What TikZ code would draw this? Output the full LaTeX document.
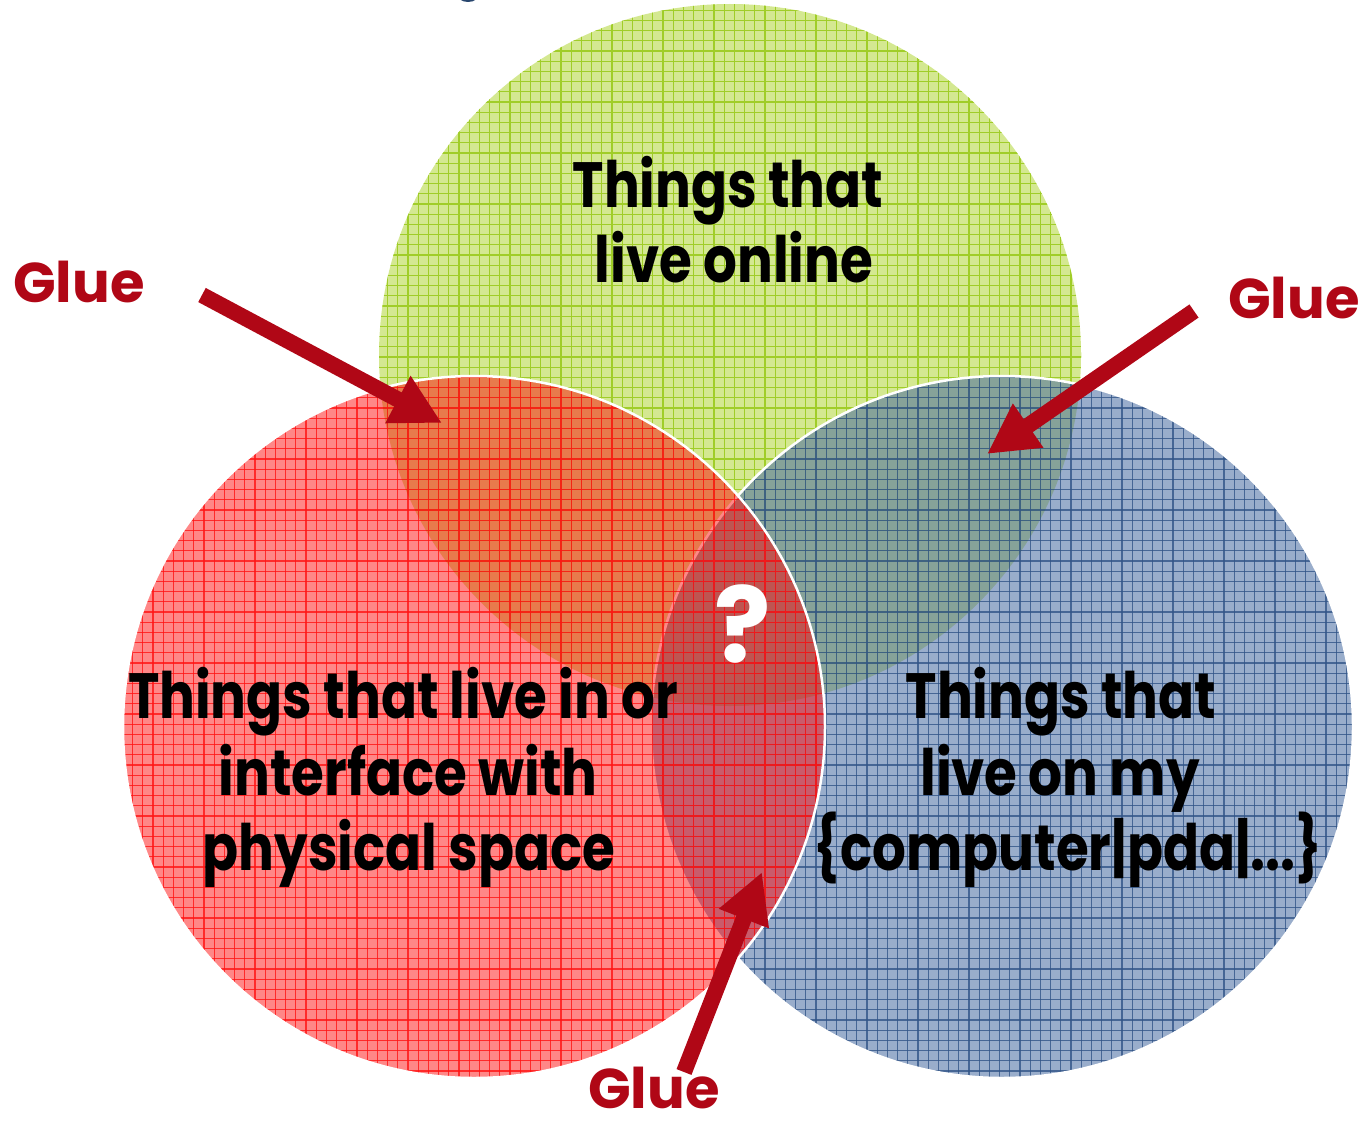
\documentclass[tikz,border=0pt]{standalone}
\usepackage{fontspec}
\newfontfamily\lblfont{Poppins}[FakeStretch=0.83]
\newfontfamily\gluefont{Poppins}
\usetikzlibrary{arrows.meta}
\definecolor{gluered}{RGB}{176,7,22}
\definecolor{greenfill}{RGB}{212,232,145}
\definecolor{greenline}{RGB}{160,205,40}
\definecolor{redfill}{RGB}{255,0,0}
\definecolor{redline}{RGB}{255,20,20}
\definecolor{bluefill}{RGB}{70,105,160}
\definecolor{blueline}{RGB}{50,85,135}
\definecolor{topblue}{RGB}{40,70,110}
\tikzset{
  gridline/.style={line width=1.1pt},
  outline/.style={draw=white, line width=2.5pt},
  bodytext/.style={inner sep=0pt, anchor=base, font=\lblfont\bfseries\fontsize{64}{64}\selectfont},
  gluetext/.style={inner sep=0pt, anchor=base, text=gluered, font=\gluefont\bfseries\fontsize{56}{56}\selectfont},
  gluearrow/.style={draw=gluered, line width=16pt, -{Triangle[length=50pt,width=50pt]}},
}
\begin{document}
\begin{tikzpicture}[x=1pt,y=-1pt]
\useasboundingbox (0,0) rectangle (1364,1121);
% small dark arc at top
\fill[topblue] (468,-7) ellipse [x radius=12pt, y radius=9pt];
% green circle
\fill[greenfill] (730,355) circle[radius=351pt];
\begin{scope}
  \clip (730,355) circle[radius=351pt];
  \foreach \k in {37,...,107} \draw[gridline, greenline] (\k*10.2,0) -- (\k*10.2,720);
  \foreach \k in {0,...,70} \draw[gridline, greenline] (370,\k*10.2) -- (1090,\k*10.2);
\end{scope}
% blue circle
\fill[bluefill, fill opacity=0.55] (1002,727) circle[radius=351pt];
\begin{scope}
  \clip (1002,727) circle[radius=351pt];
  \foreach \k in {63,...,133} \draw[gridline, blueline, draw opacity=0.8] (\k*10.2,370) -- (\k*10.2,1090);
  \foreach \k in {36,...,106} \draw[gridline, blueline, draw opacity=0.8] (640,\k*10.2) -- (1364,\k*10.2);
\end{scope}
\draw[outline] (1002,727) circle[radius=351pt];
% red circle
\fill[redfill, fill opacity=0.47] (474,727) circle[radius=351pt];
\begin{scope}
  \clip (474,727) circle[radius=351pt];
  \foreach \k in {11,...,82} \draw[gridline, redline, draw opacity=0.8] (\k*10.2,370) -- (\k*10.2,1090);
  \foreach \k in {36,...,106} \draw[gridline, redline, draw opacity=0.8] (110,\k*10.2) -- (840,\k*10.2);
\end{scope}
\draw[outline] (474,727) circle[radius=351pt];
% texts
\node[bodytext] (on1) at (728,207) {Things that};
\node[bodytext] (on2) at (734,282) {live online};
\node[bodytext] (ph1) at (403,718) {Things that live in or};
\node[bodytext] (ph2) at (408,795) {interface with};
\node[bodytext] (ph3) at (409,870) {physical space};
\node[bodytext] (pc1) at (1061,718) {Things that};
\node[bodytext] (pc2) at (1060,795) {live on my};
\node[bodytext] (pc3) at (1068,870) {\{computer|pda|...\}};
\node[inner sep=0pt, anchor=base, text=white, font=\gluefont\bfseries\fontsize{105}{105}\selectfont] (q) at (743,662) {?};
% glue labels
\node[gluetext] (glue1) at (79,302) {Glue};
\node[gluetext] (glue2) at (1294,318) {Glue};
\node[gluetext] (glue3) at (654,1108) {Glue};
% arrows
\coordinate (a1tail) at (202,295);
\coordinate (a1tip) at (442,423);
\coordinate (a2tail) at (1194,311);
\coordinate (a2tip) at (987,454);
\coordinate (a3tail) at (684,1072);
\coordinate (a3tip) at (762,872);
\draw[gluearrow] (a1tail) -- (a1tip);
\draw[gluearrow] (a2tail) -- (a2tip);
\draw[gluearrow] (a3tail) -- (a3tip);
\end{tikzpicture}
\end{document}
